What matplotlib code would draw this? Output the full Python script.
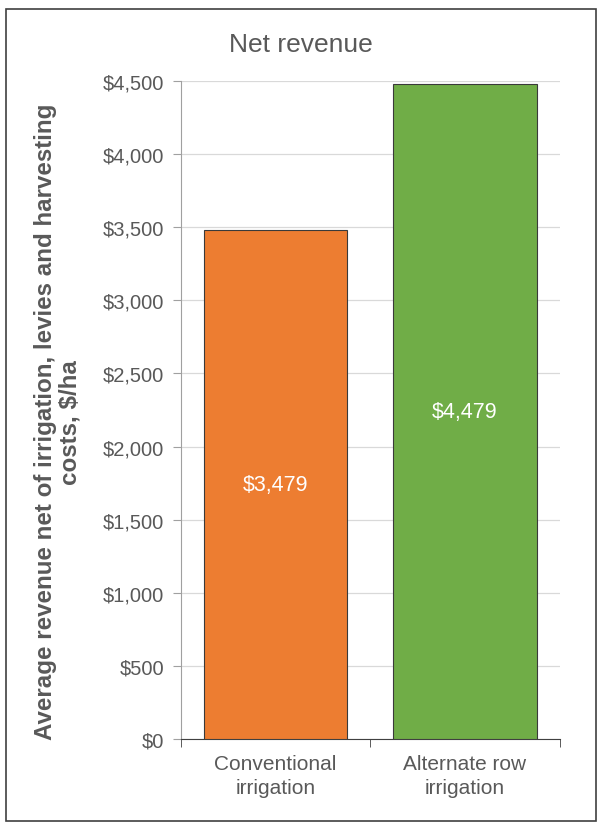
import matplotlib.pyplot as plt
from matplotlib.patches import Rectangle
from matplotlib.ticker import FuncFormatter

categories = ["Conventional\nirrigation", "Alternate row\nirrigation"]
net_revenue = [3479, 4479]
bar_colors = ["#ED7D31", "#70AD47"]
y_ticks = [0, 500, 1000, 1500, 2000, 2500, 3000, 3500, 4000, 4500]

plt.rcParams["font.family"] = ["Liberation Sans", "DejaVu Sans"]
grey = "#595959"

fig = plt.figure(figsize=(6.01, 8.29), dpi=100)
ax = fig.add_axes([0.301, 0.1074, 0.630, 0.7937])

x = range(len(categories))
bars = ax.bar(x, net_revenue, width=0.76, color=bar_colors,
              edgecolor="#3a3a3a", linewidth=0.8, zorder=3)

for b, v in zip(bars, net_revenue):
    ax.text(b.get_x() + b.get_width() / 2, v / 2, "${:,.0f}".format(v),
            ha="center", va="center", color="white", fontsize=15.5, zorder=4)

ax.set_xlim(-0.5, 1.5)
ax.set_ylim(0, 4500)
ax.set_yticks(y_ticks)
ax.yaxis.set_major_formatter(FuncFormatter(lambda v, p: "${:,.0f}".format(v)))
ax.set_xticks(list(x))
ax.set_xticklabels(categories, linespacing=1.35)
ax.set_xticks([-0.5, 0.5, 1.5], minor=True)
ax.tick_params(axis="x", which="major", length=0, pad=11, labelsize=15, labelcolor=grey)
ax.tick_params(axis="x", which="minor", length=6, color="#404040")
ax.tick_params(axis="y", length=6, color="#a0a0a0", labelsize=14.5, labelcolor=grey, pad=6)

ax.grid(axis="y", color="#d9d9d9", linewidth=0.9, zorder=0)
for s in ["top", "right"]:
    ax.spines[s].set_visible(False)
ax.spines["left"].set_color("#a0a0a0")
ax.spines["bottom"].set_color("#404040")

ax.set_ylabel("Average revenue net of irrigation, levies and harvesting\ncosts, $/ha",
              fontsize=17.4, fontweight="bold", color=grey, linespacing=1.1)
ax.yaxis.set_label_coords(-0.262, 0.483)

fig.text(0.5, 0.946, "Net revenue", ha="center", va="center", fontsize=19, color=grey)

# outer frame around the chart
fig.patches.append(Rectangle((0.010, 0.008), 0.982, 0.98, transform=fig.transFigure,
                             fill=False, edgecolor="#404040", linewidth=1.2))

fig.savefig("out.png", dpi=100)
